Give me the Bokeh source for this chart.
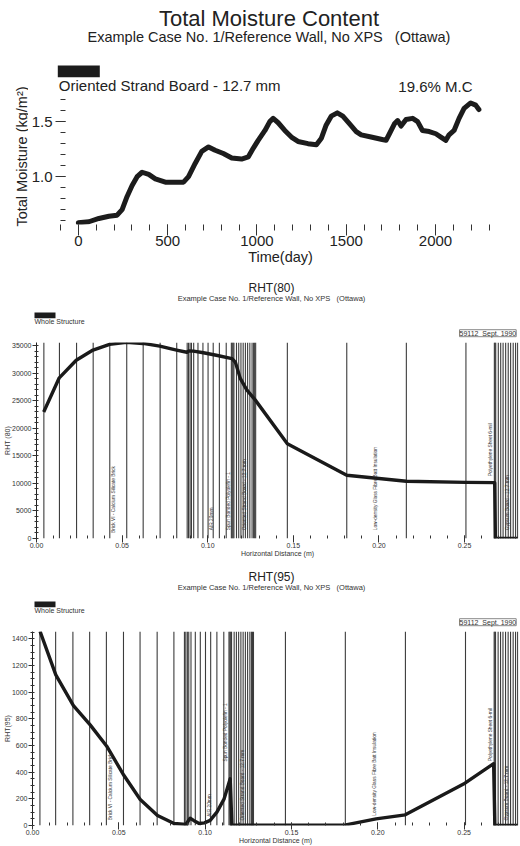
import math
from bokeh.plotting import figure
from bokeh.models import Range1d, FixedTicker, PrintfTickFormatter, Label, BoxAnnotation
from bokeh.layouts import column, row
from bokeh.embed import file_html
from bokeh.resources import INLINE

FONT = "Liberation Sans"
NB = "\u00a0"

# ---------------- data: total moisture content ----------------
TIME_DAYS = [0, 59, 115, 171, 217, 245, 273, 301, 329, 357, 394, 431, 487, 543, 589,
             617, 654, 691, 729, 766, 812, 859, 914, 952, 980, 1007, 1045, 1072, 1091,
             1119, 1156, 1193, 1230, 1286, 1333, 1361, 1388, 1416, 1450, 1481, 1519,
             1556, 1584, 1639, 1695, 1723, 1742, 1770, 1788, 1807, 1835, 1872, 1900,
             1927, 1965, 2002, 2030, 2058, 2076, 2104, 2132, 2160, 2197, 2225, 2243]
MOISTURE = [0.58, 0.59, 0.62, 0.64, 0.65, 0.70, 0.82, 0.92, 1.00, 1.04, 1.02, 0.98, 0.95,
            0.95, 0.95, 1.00, 1.12, 1.23, 1.27, 1.24, 1.21, 1.17, 1.16, 1.18, 1.26, 1.33,
            1.42, 1.50, 1.53, 1.49, 1.42, 1.36, 1.32, 1.30, 1.29, 1.35, 1.47, 1.55, 1.58,
            1.55, 1.48, 1.41, 1.38, 1.36, 1.34, 1.33, 1.39, 1.48, 1.51, 1.46, 1.52, 1.53,
            1.50, 1.42, 1.41, 1.39, 1.36, 1.33, 1.38, 1.42, 1.53, 1.62, 1.67, 1.65, 1.61]
TIME_TICKS = [0, 500, 1000, 1500, 2000]
TIME_MINOR = [d for d in range(-100, 2400, 100)]
MOIST_TICKS = [1.0, 1.5]
MOIST_MINOR = [round(0.1 * k, 1) for k in range(6, 18)]

# ---------------- data: wall profiles ----------------
GRID_X = [0.0043, 0.0134, 0.0234, 0.0331, 0.0428, 0.0527, 0.0623, 0.0722, 0.0819,
          0.0880, 0.0888, 0.0897, 0.0905, 0.0918, 0.0943, 0.0972, 0.1002, 0.1032,
          0.1068, 0.1108, 0.1138, 0.1143, 0.1148, 0.1153, 0.1168, 0.1181, 0.1194,
          0.1207, 0.1220, 0.1233, 0.1246, 0.1259, 0.1268, 0.1274, 0.1280,
          0.1465, 0.1812, 0.2160, 0.2508,
          0.2674, 0.2678, 0.2682, 0.2697, 0.2711, 0.2725, 0.2740, 0.2755, 0.2769,
          0.2784, 0.2798, 0.2810]

X80 = [0.0042, 0.0133, 0.0232, 0.0330, 0.0427, 0.0525, 0.0622, 0.0720, 0.0818, 0.0878,
       0.0890, 0.0917, 0.0975, 0.1050, 0.1142, 0.1162, 0.1190, 0.1228, 0.1277, 0.1465,
       0.1812, 0.2160, 0.2508, 0.2676, 0.2680, 0.2810]
RHT80 = [23000, 29200, 32400, 34250, 35270, 35650, 35450, 34950, 34250, 33850, 34100,
         34050, 33750, 33300, 32700, 32000, 29100, 27000, 25200, 17200, 11500, 10400,
         10200, 10150, 0, 0]

X95 = [0.0044, 0.0135, 0.0237, 0.0334, 0.0430, 0.0530, 0.0624, 0.0724, 0.0820, 0.0888,
       0.0913, 0.0933, 0.0965, 0.0996, 0.1029, 0.1068, 0.1110, 0.1145, 0.1155, 0.1300,
       0.1465, 0.1815, 0.1990, 0.2159, 0.2505, 0.2671, 0.2678, 0.2810]
RHT95 = [1456, 1130, 900, 755, 595, 375, 195, 75, 15, 8, 55, 38, 15, 20, 38, 100, 200,
         350, 3, 2, 2, 5, 50, 80, 318, 464, 0, 0]

DIST_TICKS = [0.0, 0.05, 0.10, 0.15, 0.20, 0.25]
DIST_MINOR = [round(0.01 * k, 2) for k in range(0, 29)]
RHT80_TICKS = [0, 5000, 10000, 15000, 20000, 25000, 30000, 35000]
RHT80_MINOR = list(range(0, 36000, 1000))
RHT95_TICKS = [0, 200, 400, 600, 800, 1000, 1200, 1400]
RHT95_MINOR = list(range(0, 1451, 50))

LAYER_NAMES = ["Brick VI - Calcium Silicate Brick", "AIR 20mm",
               "Spun Bonded Polyolefin - 1", "Oriented Strand Board - 12.7 mm",
               "Low-density Glass Fibre Batt Insulation", "Polyethylene Sheet 6-mil",
               "Gypsum Board - 12.7 mm"]
LAYER_LABEL_X = [0.0450, 0.1024, 0.1120, 0.1215, 0.1980, 0.2653, 0.2748]
LABEL_Y80 = [1000, 1500, 1500, 1500, 1500, 11300, 1500]
LABEL_Y95 = [40, 65, 480, 37, 74, 483, 37]

SUBTITLE = "Example Case No. 1/Reference Wall, No XPS" + NB * 3 + "(Ottawa)"
STAMP = "59112" + NB * 2 + "Sept. 1990"

W = 520
MID = 0.36  # distance from baseline to the middle of capitals, in em


def add_label(p, x, y, text, size, align="left", baseline="middle", angle=0.0,
              color="#222222", **kw):
    p.add_layout(Label(x=x, y=y, text=text, text_font=FONT, text_font_size=f"{size}px",
                       text_align=align, text_baseline=baseline, angle=angle,
                       text_color=color, **kw))


def add_line_text(p, x, base, text, size, align="left", color="#222222", **kw):
    """Place a text whose baseline (y down, pixel coordinates) is at `base`."""
    add_label(p, x, base - MID * size, text, size, align=align, color=color, **kw)


def style_common(p):
    p.xgrid.visible = False
    p.ygrid.visible = False
    p.outline_line_color = None
    p.background_fill_color = "white"
    p.border_fill_color = "white"


def text_panel(width, height):
    """A figure without axes whose frame is the whole canvas (pixel coordinates, y down)."""
    p = figure(width=width, height=height, output_backend="svg", toolbar_location=None,
               x_range=Range1d(0, width), y_range=Range1d(height, 0),
               x_axis_location=None, y_axis_location=None, min_border=0)
    style_common(p)
    return p


# ---------------- figure 1 ----------------
STRIP_W = 28
HEAD1_H = 95
strip1 = text_panel(STRIP_W, 272)
add_label(strip1, 21, 156, "Total Moisture (kg/m\u00b2)", 14.5, align="center",
          angle=math.pi / 2)

head1 = text_panel(W - STRIP_W, HEAD1_H)
add_line_text(head1, 240.5, 26, "Total Moisture Content", 22, align="center")
add_line_text(head1, 240.5, 41.7, SUBTITLE, 14.5, align="center")
head1.add_layout(BoxAnnotation(left=29.3, right=71.3, top=65, bottom=76.7,
                               fill_color="#1c1c1c", fill_alpha=1.0, line_color=None))
add_line_text(head1, 30.3, 90, "Oriented Strand Board - 12.7 mm", 15)
add_line_text(head1, 444, 91.5, "19.6% M.C", 15, align="right")

Y1_TOP = 0.565 + (224 - HEAD1_H) / 110.0
p1 = figure(width=W - STRIP_W, height=272 - HEAD1_H, output_backend="svg",
            toolbar_location=None, x_range=Range1d(-100, 2364),
            y_range=Range1d(0.565, Y1_TOP), min_border_left=30, min_border_right=20,
            min_border_top=0, min_border_bottom=48)
style_common(p1)
p1.line(TIME_DAYS, MOISTURE, line_width=5, color="#1c1c1c", line_join="round",
        line_cap="round")

xa = p1.xaxis[0]
xa.ticker = FixedTicker(ticks=TIME_TICKS, minor_ticks=TIME_MINOR)
xa.formatter = PrintfTickFormatter(format="%d")
xa.axis_line_color = None
xa.major_tick_out = 11
xa.major_tick_in = 0
xa.minor_tick_out = 6
xa.minor_tick_in = 0
xa.major_tick_line_color = "#333333"
xa.minor_tick_line_color = "#333333"
xa.major_label_text_font = FONT
xa.major_label_text_font_size = "15px"
xa.major_label_text_color = "#222222"
xa.major_label_standoff = 0
xa.axis_label = "Time(day)"
xa.axis_label_text_font = FONT
xa.axis_label_text_font_size = "14.5px"
xa.axis_label_text_font_style = "normal"
xa.axis_label_text_color = "#222222"
xa.axis_label_standoff = 0

ya = p1.yaxis[0]
ya.ticker = FixedTicker(ticks=MOIST_TICKS, minor_ticks=MOIST_MINOR)
ya.formatter = PrintfTickFormatter(format="%.1f")
ya.axis_line_color = None
ya.major_tick_out = 5
ya.major_tick_in = 5
ya.minor_tick_out = 0
ya.minor_tick_in = 5
ya.major_tick_line_color = "#333333"
ya.minor_tick_line_color = "#333333"
ya.major_label_text_font = FONT
ya.major_label_text_font_size = "15px"
ya.major_label_text_color = "#222222"
ya.major_label_standoff = 3

top_block = row(strip1, column(column(head1), column(p1), spacing=0), spacing=0)


# ---------------- wall profile figures ----------------
def profile_header(height, title):
    h = text_panel(W, height)
    ft = height  # frame top of the chart below, in header pixel coordinates
    add_line_text(h, 271, ft - 49.7, title, 12, align="center", color="#222222")
    add_line_text(h, 271, ft - 41.0, SUBTITLE, 7.5, align="center", color="#333333")
    h.add_layout(BoxAnnotation(left=34, right=55, top=ft - 30.0, bottom=ft - 24.3,
                               fill_color="#1c1c1c", fill_alpha=1.0, line_color=None))
    add_line_text(h, 34, ft - 18.4, "Whole Structure", 7, color="#333333")
    add_label(h, 459, ft - 9.3, STAMP, 7, color="#333333",
              background_fill_color="white", border_line_color="#888888",
              border_line_width=1)
    return h


def profile_chart(height, left, bottom, y_top, xs, ys, ticks, minor, label_y, ylab):
    p = figure(width=W, height=height, output_backend="svg", toolbar_location=None,
               x_range=Range1d(0.0, 0.2815), y_range=Range1d(0, y_top),
               min_border_left=left, min_border_right=2, min_border_top=0,
               min_border_bottom=bottom)
    style_common(p)

    n = len(GRID_X)
    p.segment(x0=GRID_X, y0=[0] * n, x1=GRID_X, y1=[y_top] * n, line_color="#3c3c3c",
              line_width=1.1)
    p.line(xs, ys, line_width=3.4, color="#1a1a1a", line_join="round")

    for name, lx, lyv in zip(LAYER_NAMES, LAYER_LABEL_X, label_y):
        add_label(p, lx, lyv, name, 4.8, align="left", angle=math.pi / 2,
                  color="#333333")

    xa = p.xaxis[0]
    xa.ticker = FixedTicker(ticks=DIST_TICKS, minor_ticks=DIST_MINOR)
    xa.formatter = PrintfTickFormatter(format="%.2f")
    xa.axis_line_color = None
    xa.major_tick_out = 4
    xa.major_tick_in = 3
    xa.minor_tick_out = 0
    xa.minor_tick_in = 3
    xa.major_tick_line_color = "#333333"
    xa.minor_tick_line_color = "#333333"
    xa.major_label_text_font = FONT
    xa.major_label_text_font_size = "7px"
    xa.major_label_text_color = "#333333"
    xa.major_label_standoff = 0
    xa.axis_label = "Horizontal Distance (m)"
    xa.axis_label_text_font = FONT
    xa.axis_label_text_font_size = "7px"
    xa.axis_label_text_font_style = "normal"
    xa.axis_label_text_color = "#333333"
    xa.axis_label_standoff = -1

    ya = p.yaxis[0]
    ya.ticker = FixedTicker(ticks=ticks, minor_ticks=minor)
    ya.formatter = PrintfTickFormatter(format="%d")
    ya.axis_line_color = "#222222"
    ya.axis_line_width = 1
    ya.major_tick_out = 4
    ya.major_tick_in = 0
    ya.minor_tick_out = 2
    ya.minor_tick_in = 2
    ya.major_tick_line_color = "#333333"
    ya.minor_tick_line_color = "#333333"
    ya.major_label_text_font = FONT
    ya.major_label_text_font_size = "7px"
    ya.major_label_text_color = "#333333"
    ya.major_label_standoff = 1
    ya.axis_label = ylab
    ya.axis_label_text_font = FONT
    ya.axis_label_text_font_size = "7px"
    ya.axis_label_text_font_style = "normal"
    ya.axis_label_text_color = "#333333"
    ya.axis_label_standoff = -2
    return p


head2 = profile_header(70, "RHT(80)")
p2 = profile_chart(218, 36, 22, 35620, X80, RHT80, RHT80_TICKS, RHT80_MINOR, LABEL_Y80,
                   "RHT (80)")
head3 = profile_header(71, "RHT(95)")
p3 = profile_chart(215, 32, 19, 1456, X95, RHT95, RHT95_TICKS, RHT95_MINOR, LABEL_Y95,
                   "RHT(95)")

layout = column(top_block, column(head2), column(p2), column(head3), column(p3),
                spacing=0)
open("out.html", "w").write(file_html(layout, INLINE, "plot"))
